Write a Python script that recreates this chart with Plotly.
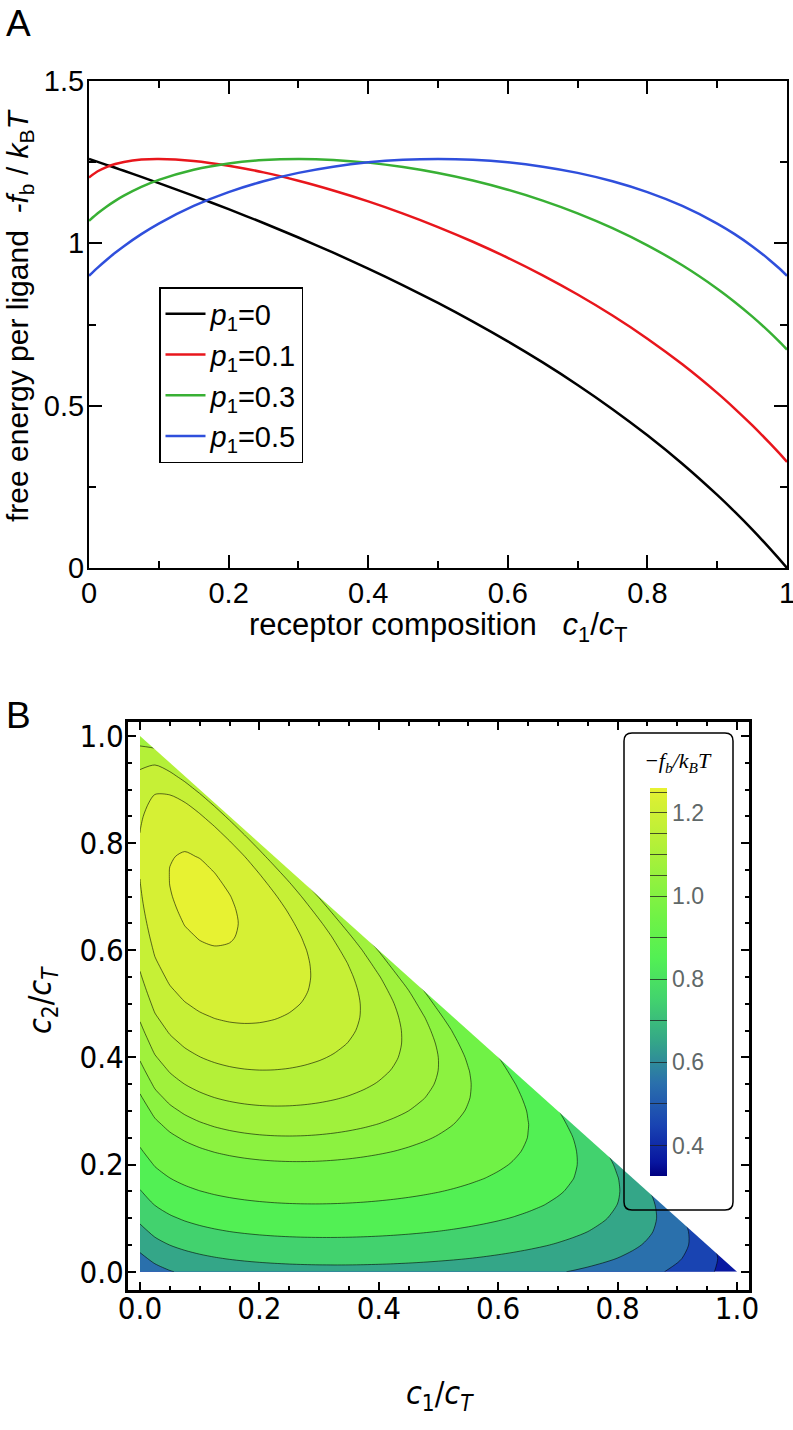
import plotly.graph_objects as go
from plotly.colors import sample_colorscale

W, H = 793, 1430

# ---------------- Panel A data ----------------
composition = [0, 0.0125, 0.025, 0.0375, 0.05, 0.075, 0.1, 0.15, 0.2, 0.25, 0.3, 0.35, 0.4,
               0.45, 0.5, 0.55, 0.6, 0.65, 0.7, 0.75, 0.8, 0.85, 0.9, 0.925, 0.95, 0.975,
               0.9875, 1.0]
fb_p1_0 = [1.2599, 1.2509, 1.2418, 1.2327, 1.2234, 1.2047, 1.1856, 1.1462, 1.1053, 1.0626,
           1.0179, 0.9713, 0.9223, 0.8708, 0.8165, 0.7591, 0.6981, 0.6333, 0.5639, 0.4893,
           0.4088, 0.3212, 0.2251, 0.1734, 0.1189, 0.0612, 0.0311, 0.0]
fb_p1_01 = [1.2028, 1.2219, 1.2350, 1.2442, 1.2506, 1.2579, 1.2599, 1.2539, 1.2392, 1.2185,
            1.1928, 1.1628, 1.1291, 1.0915, 1.0502, 1.0049, 0.9554, 0.9014, 0.8423, 0.7776,
            0.7063, 0.6273, 0.5393, 0.4911, 0.4399, 0.3853, 0.3566, 0.3268]
fb_p1_03 = [1.0693, 1.0925, 1.1128, 1.1308, 1.1467, 1.1738, 1.1955, 1.2268, 1.2462, 1.2567,
            1.2599, 1.2570, 1.2486, 1.2351, 1.2167, 1.1935, 1.1652, 1.1317, 1.0925, 1.0468,
            0.9939, 0.9323, 0.8603, 0.8195, 0.7751, 0.7264, 0.7002, 0.6727]
fb_p1_05 = [0.9000, 0.9254, 0.9489, 0.9708, 0.9913, 1.0283, 1.0609, 1.1151, 1.1578, 1.1912,
            1.2171, 1.2362, 1.2495, 1.2573, 1.2599, 1.2573, 1.2495, 1.2362, 1.2171, 1.1912,
            1.1578, 1.1151, 1.0609, 1.0283, 0.9913, 0.9489, 0.9254, 0.9000]
series_names = ["<i>p</i><sub>1</sub>=0", "<i>p</i><sub>1</sub>=0.1",
                "<i>p</i><sub>1</sub>=0.3", "<i>p</i><sub>1</sub>=0.5"]
series_colors = ["#000000", "#e8161c", "#38b034", "#2f4fdc"]

a_xticks = [0, 0.2, 0.4, 0.6, 0.8, 1.0]
a_xticktext = ["0", "0.2", "0.4", "0.6", "0.8", "1"]
a_yticks = [0, 0.5, 1.0, 1.5]
a_yticktext = ["0", "0.5", "1", "1.5"]

# ---------------- Panel B data ----------------
# sampling grid of c1/cT and c2/cT
grid = [0.0, 0.025, 0.05, 0.075, 0.1, 0.125, 0.15, 0.175, 0.2, 0.225, 0.25, 0.275, 0.3,
        0.325, 0.35, 0.375, 0.4, 0.425, 0.45, 0.475, 0.5, 0.525, 0.55, 0.575, 0.6, 0.625,
        0.65, 0.675, 0.7, 0.725, 0.75, 0.775, 0.8, 0.825, 0.85, 0.875, 0.9, 0.925, 0.95,
        0.975, 1.0]
# contribution of each receptor species to -f_b/kBT on that grid
term_c1 = [0.0, 0.04894, 0.08165, 0.10626, 0.12599, 0.14246, 0.15660, 0.16899, 0.18001,
           0.18993, 0.19896, 0.20724, 0.21489, 0.22199, 0.22862, 0.23484, 0.24069, 0.24623,
           0.25147, 0.25645, 0.26119, 0.26572, 0.27005, 0.27420, 0.27819, 0.28203, 0.28572,
           0.28928, 0.29272, 0.29604, 0.29926, 0.30238, 0.30540, 0.30833, 0.31118, 0.31396,
           0.31665, 0.31928, 0.32184, 0.32433, 0.32677]
term_c2 = [0.0, 0.06044, 0.11607, 0.16761, 0.21561, 0.26053, 0.30273, 0.34254, 0.38021,
           0.41595, 0.44996, 0.48238, 0.51338, 0.54306, 0.57154, 0.59889, 0.62522, 0.65059,
           0.67508, 0.69874, 0.72163, 0.74379, 0.76527, 0.78611, 0.80635, 0.82602, 0.84515,
           0.86377, 0.88190, 0.89960, 0.91685, 0.93368, 0.95011, 0.96617, 0.98187, 0.99723,
           1.01226, 1.02696, 1.04137, 1.05549, 1.06933]
term_c3 = [0.0, 0.05486, 0.09787, 0.13325, 0.16330, 0.18941, 0.21251, 0.23322, 0.25197,
           0.26913, 0.28492, 0.29956, 0.31320, 0.32597, 0.33797, 0.34930, 0.36001, 0.37018,
           0.37986, 0.38909, 0.39792, 0.40637, 0.41448, 0.42227, 0.42978, 0.43700, 0.44398,
           0.45072, 0.45724, 0.46356, 0.46968, 0.47562, 0.48139, 0.48700, 0.49245, 0.49776,
           0.50293, 0.50798, 0.51289, 0.51769, 0.52238]
term_c3_beyond = -0.07585   # one step past the c1+c2=1 edge
contour_levels = [0.4, 0.5, 0.6, 0.7, 0.8, 0.9, 1.0, 1.05, 1.1, 1.15, 1.2, 1.25]
cbar_min, cbar_max = 0.3268, 1.2599
cbar_labels = [0.4, 0.6, 0.8, 1.0, 1.2]
b_ticks = [0.0, 0.2, 0.4, 0.6, 0.8, 1.0]
b_ticktext = ["0.0", "0.2", "0.4", "0.6", "0.8", "1.0"]

# ---------------- styles ----------------
FA = "Liberation Sans, Arial, Helvetica, sans-serif"
FB = ("Liberation Sans Narrow, Arial Narrow, DejaVu Sans Condensed, Noto Sans Condensed, "
      "Roboto Condensed, Liberation Sans, sans-serif")
FS = "Liberation Serif, Times New Roman, serif"

cs_stops = [(0.3268, "rgb(0,0,128)"), (0.36, "rgb(8,22,160)"), (0.45, "rgb(25,68,178)"),
            (0.55, "rgb(42,112,172)"), (0.65, "rgb(52,166,136)"), (0.75, "rgb(66,210,110)"),
            (0.85, "rgb(82,240,84)"), (0.95, "rgb(112,242,70)"), (1.025, "rgb(140,242,64)"),
            (1.075, "rgb(160,241,60)"), (1.125, "rgb(180,240,56)"), (1.175, "rgb(198,240,54)"),
            (1.225, "rgb(214,240,52)"), (1.2599, "rgb(232,242,50)")]
colorscale = [[(v - cbar_min) / (cbar_max - cbar_min), c] for v, c in cs_stops]
colorscale[0][0] = 0.0
colorscale[-1][0] = 1.0


def band_color(v):
    t = min(max((v - cbar_min) / (cbar_max - cbar_min), 0.0), 1.0)
    return sample_colorscale(colorscale, [t])[0]


def px(x):
    return x / W


def py(y):
    return 1 - y / H


fig = go.Figure()

# ---- Panel A curves
for name, vals, col in zip(series_names, [fb_p1_0, fb_p1_01, fb_p1_03, fb_p1_05], series_colors):
    fig.add_trace(go.Scatter(x=composition, y=vals, mode="lines", name=name,
                             legendgroup=name,
                             line=dict(color=col, width=2.5, shape="spline", smoothing=0.6),
                             xaxis="x", yaxis="y"))

# ---- Panel B field
n = len(grid)
z = []
for j in range(n):
    row = []
    for i in range(n):
        k = n - 1 - i - j
        if k >= 0:
            row.append(term_c1[i] + term_c2[j] + term_c3[k])
        elif k == -1:
            row.append(term_c1[i] + term_c2[j] + term_c3_beyond)
        else:
            row.append(None)
    z.append(row)

cbar_geom = dict(thickness=17, thicknessmode="pixels", len=388, lenmode="pixels",
                 x=px(650), xanchor="left", y=py(788), yanchor="top",
                 xpad=0, ypad=0, outlinewidth=0)

# continuous field (only its colour bar is visible): labelled scale
fig.add_trace(go.Heatmap(x=grid, y=grid, z=z, colorscale=colorscale, zmin=cbar_min, zmax=cbar_max,
                         opacity=0, hoverinfo="skip", showlegend=False, xaxis="x2", yaxis="y2",
                         colorbar=dict(**cbar_geom, tickmode="array", tickvals=cbar_labels,
                                       ticktext=[f"{v:.1f}" for v in cbar_labels], ticks="",
                                       tickfont=dict(family=FA, size=23, color="#5f6868"))))
# same scale again, carrying the contour-level marks
fig.add_trace(go.Heatmap(x=grid, y=grid, z=z, colorscale=colorscale, zmin=cbar_min, zmax=cbar_max,
                         opacity=0, hoverinfo="skip", showlegend=False, xaxis="x2", yaxis="y2",
                         colorbar=dict(**cbar_geom, tickmode="array", tickvals=contour_levels,
                                       showticklabels=False, ticks="inside", ticklen=17,
                                       tickwidth=1, tickcolor="rgba(30,30,30,0.75)")))

# filled bands: each constraint contour shades z > level
band_edges = [0.0] + contour_levels
upper = contour_levels + [cbar_max + 0.0051]
for lvl, top in zip(band_edges, upper):
    lo = max(lvl, cbar_min)
    fig.add_trace(go.Contour(x=grid, y=grid, z=z, showscale=False, hoverinfo="skip",
                             showlegend=False, xaxis="x2", yaxis="y2",
                             contours=dict(type="constraint", operation="<", value=lvl),
                             fillcolor=band_color((lo + top) / 2),
                             line=dict(color="rgba(0,0,0,0.72)",
                                       width=0 if lvl == 0.0 else 0.8, smoothing=0.8)))

axis_common = dict(showgrid=False, zeroline=False, showline=True, linecolor="black",
                   mirror="ticks", ticks="inside", tickcolor="black", automargin=False,
                   ticklabeloverflow="allow")

fig.update_layout(
    template="none",
    width=W, height=H, margin=dict(l=0, r=0, t=0, b=0, pad=0), autosize=False,
    paper_bgcolor="white", plot_bgcolor="white",
    showlegend=True,
    legend=dict(x=px(159), y=py(287), xanchor="left", yanchor="top",
                bgcolor="white", bordercolor="black", borderwidth=1.5,
                font=dict(family=FA, size=29, color="black"),
                tracegroupgap=0, itemwidth=40),
    xaxis=dict(domain=[px(89), px(787)], anchor="y", range=[0, 1],
               tickmode="array", tickvals=a_xticks, ticktext=a_xticktext,
               ticklen=13, tickwidth=2, linewidth=2, ticklabelstandoff=-2,
               minor=dict(tickvals=[0.1, 0.3, 0.5, 0.7, 0.9], ticks="inside", ticklen=7,
                          tickwidth=2, tickcolor="black"),
               tickfont=dict(family=FA, size=29, color="black"), **axis_common),
    yaxis=dict(domain=[py(568), py(81)], anchor="x", range=[0, 1.5],
               tickmode="array", tickvals=a_yticks, ticktext=a_yticktext,
               ticklen=13, tickwidth=2, linewidth=2, ticklabelstandoff=-3,
               minor=dict(tickvals=[0.25, 0.75, 1.25], ticks="inside", ticklen=7,
                          tickwidth=2, tickcolor="black"),
               tickfont=dict(family=FA, size=29, color="black"), **axis_common),
    xaxis2=dict(domain=[px(128), px(749)], anchor="y2", range=[-0.0201, 1.0201],
                tickmode="array", tickvals=b_ticks, ticktext=b_ticktext,
                ticklen=8, tickwidth=2, linewidth=3, ticklabelstandoff=-11,
                minor=dict(dtick=0.05, ticks="inside", ticklen=4, tickwidth=2,
                           tickcolor="black"),
                tickfont=dict(family=FB, size=31, color="black"), **axis_common),
    yaxis2=dict(domain=[py(1290), py(722)], anchor="x2", range=[-0.034, 1.026],
                tickmode="array", tickvals=b_ticks, ticktext=b_ticktext,
                ticklen=8, tickwidth=2, linewidth=3, ticklabelstandoff=-5,
                minor=dict(dtick=0.05, ticks="inside", ticklen=4, tickwidth=2,
                           tickcolor="black"),
                tickfont=dict(family=FB, size=31, color="black"), **axis_common),
)

# mask outside the c1 + c2 <= 1 simplex
fig.add_shape(type="path", xref="x2", yref="y2",
              path="M 0,1 L 1,0 L 1.004,0 L 1.004,1.004 L 0,1.004 Z",
              fillcolor="white", line=dict(width=0), layer="above")

# rounded box around the colour bar
x0, x1, y0, y1, r = 624, 733, 733, 1210, 8
path = (f"M {px(x0 + r)},{py(y0)} L {px(x1 - r)},{py(y0)} Q {px(x1)},{py(y0)} {px(x1)},{py(y0 + r)} "
        f"L {px(x1)},{py(y1 - r)} Q {px(x1)},{py(y1)} {px(x1 - r)},{py(y1)} "
        f"L {px(x0 + r)},{py(y1)} Q {px(x0)},{py(y1)} {px(x0)},{py(y1 - r)} "
        f"L {px(x0)},{py(y0 + r)} Q {px(x0)},{py(y0)} {px(x0 + r)},{py(y0)} Z")
fig.add_shape(type="path", xref="paper", yref="paper", path=path,
              line=dict(color="black", width=1.5), fillcolor="rgba(0,0,0,0)", layer="above")

annots = [
    dict(text="A", x=px(18), y=py(23), font=dict(family=FA, size=37)),
    dict(text="B", x=px(18), y=py(715), font=dict(family=FA, size=37)),
    dict(text="receptor composition\u00a0\u00a0\u00a0<i>c</i><sub>1</sub>/<i>c</i><sub>T</sub>",
         x=px(438), y=py(627), font=dict(family=FA, size=31)),
    dict(text="free energy per ligand\u00a0\u00a0<i>-f</i><sub>b</sub> / <i>k</i><sub>B</sub><i>T</i>",
         x=px(19), y=py(315), textangle=-90, font=dict(family=FA, size=30)),
    dict(text="<i>c</i><sub>1</sub>/<i>c</i><sub><i>T</i></sub>",
         x=px(440), y=py(1395), font=dict(family=FB, size=32)),
    dict(text="<i>c</i><sub>2</sub>/<i>c</i><sub><i>T</i></sub>",
         x=px(42), y=py(1000), textangle=-90, font=dict(family=FB, size=32)),
    dict(text="<i>−f</i><sub><i>b</i></sub><i>/k</i><sub><i>B</i></sub><i>T</i>",
         x=px(678), y=py(762), font=dict(family=FS, size=22)),
]
for a in annots:
    a["font"]["color"] = "black"
    fig.add_annotation(xref="paper", yref="paper", showarrow=False,
                       xanchor="center", yanchor="middle", **a)

fig.write_html("out.html", config={"displayModeBar": False},
               post_script="document.body.style.margin='0';")
